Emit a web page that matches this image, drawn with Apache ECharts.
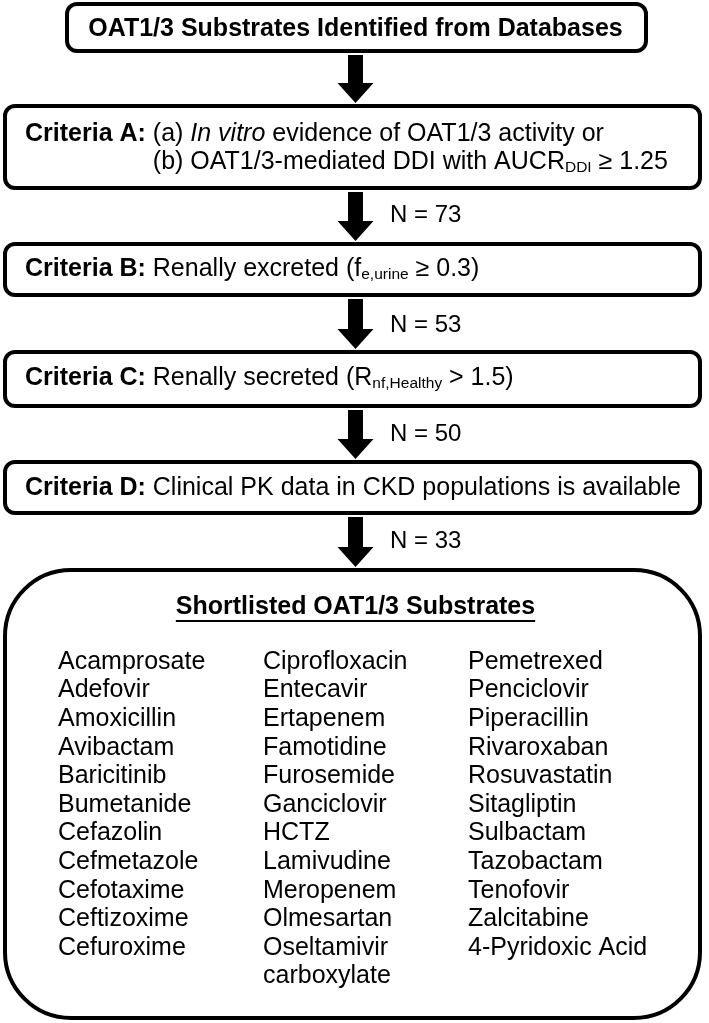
<!DOCTYPE html>
<html>
<head>
<meta charset="utf-8">
<script src="https://cdn.jsdelivr.net/npm/echarts@6/dist/echarts.min.js"></script>
<style>
html,body{margin:0;padding:0;background:#fff;}
#chart{width:709px;height:1023px;}
</style>
</head>
<body>
<div id="chart"></div>
<script>
// ---- data ----
const topTitle = 'OAT1/3 Substrates Identified from Databases';
const criteriaA1 = '{b|Criteria A:} (a) {i|In vitro} evidence of OAT1/3 activity or';
const criteriaA2 = '(b) OAT1/3-mediated DDI with AUCR{s|DDI} ≥ 1.25';
const criteriaB = '{b|Criteria B:} Renally excreted (f{s|e,urine} ≥ 0.3)';
const criteriaC = '{b|Criteria C:} Renally secreted (R{s|nf,Healthy} > 1.5)';
const criteriaD = '{b|Criteria D:} Clinical PK data in CKD populations is available';
const counts = [73, 53, 50, 33];
const listTitle = 'Shortlisted OAT1/3 Substrates';
const column1 = ['Acamprosate','Adefovir','Amoxicillin','Avibactam','Baricitinib','Bumetanide','Cefazolin','Cefmetazole','Cefotaxime','Ceftizoxime','Cefuroxime'];
const column2 = ['Ciprofloxacin','Entecavir','Ertapenem','Famotidine','Furosemide','Ganciclovir','HCTZ','Lamivudine','Meropenem','Olmesartan','Oseltamivir\ncarboxylate'];
const column3 = ['Pemetrexed','Penciclovir','Piperacillin','Rivaroxaban','Rosuvastatin','Sitagliptin','Sulbactam','Tazobactam','Tenofovir','Zalcitabine','4-Pyridoxic Acid'];

// ---- layout ----
const FF = '"Liberation Sans", Arial, Helvetica, sans-serif';
const FS = 25;
const cx = 355.5;
const rich = {
  b: {fontFamily: FF, fontSize: FS, fontWeight: 'bold', fill: '#000'},
  i: {fontFamily: FF, fontSize: FS, fontStyle: 'italic', fill: '#000'},
  s: {fontFamily: FF, fontSize: 15.5, fill: '#000', padding: [12, 0, 0, 0]}
};
function txt(text, x, y, opts) {
  return {
    type: 'text', x: x, y: y, silent: true,
    style: Object.assign({
      text: text, fill: '#000', fontFamily: FF, fontSize: FS,
      align: 'left', verticalAlign: 'middle', rich: rich
    }, opts || {})
  };
}
function box(x1, y1, x2, y2, r) {
  return {type: 'rect', shape: {x: x1, y: y1, width: x2 - x1, height: y2 - y1, r: r},
    style: {fill: '#fff', stroke: '#000', lineWidth: 4}, silent: true};
}
function arrow(y0, y1) {
  const hs = 7.5, hh = 18, yh = y1 - 20;
  return {type: 'polygon', silent: true,
    shape: {points: [[cx - hs, y0], [cx + hs, y0], [cx + hs, yh], [cx + hh, yh], [cx, y1], [cx - hh, yh], [cx - hs, yh]]},
    style: {fill: '#000'}};
}
const ctx = document.createElement('canvas').getContext('2d');
function measure(t, font) { ctx.font = font; return ctx.measureText(t).width; }

const els = [];
els.push(box(67, 4, 646, 51, 10));
els.push(txt(topTitle, cx, 29, {align: 'center', fontWeight: 'bold'}));

const boxes = [[106, 188], [244, 295], [352, 406], [462, 513]];
boxes.forEach(b => els.push(box(5, b[0], 700, b[1], 10)));
const arrows = [[55, 103], [192, 241], [299, 349], [410, 459], [517, 567]];
arrows.forEach(a => els.push(arrow(a[0], a[1])));

const leftX = 25;
els.push(txt(criteriaA1, leftX, 134));
const indent = leftX + measure('Criteria A: ', 'bold ' + FS + 'px ' + FF);
els.push(txt(criteriaA2, indent, 162));
els.push(txt(criteriaB, leftX, 269));
els.push(txt(criteriaC, leftX, 378));
els.push(txt(criteriaD, leftX, 488));

const labelY = [215, 325, 434, 541];
counts.forEach((n, k) => els.push(txt('N = ' + n, 390, labelY[k], {fontSize: 24})));

// final box
els.push(box(5, 570, 700, 1018, 66));
els.push(txt(listTitle, cx, 607, {align: 'center', fontWeight: 'bold'}));
const tw = measure(listTitle, 'bold ' + FS + 'px ' + FF);
els.push({type: 'line', silent: true, shape: {x1: cx - tw / 2, y1: 621, x2: cx + tw / 2, y2: 621}, style: {stroke: '#000', lineWidth: 2}});

const rowH = 28.6, firstRow = 662;
[[column1, 58], [column2, 263], [column3, 468]].forEach(c => {
  els.push({type: 'text', silent: true, x: c[1], y: firstRow - rowH / 2,
    style: {text: c[0].join('\n'), fill: '#000', fontFamily: FF, fontSize: 25, lineHeight: rowH, align: 'left', verticalAlign: 'top'}});
});

const chart = echarts.init(document.getElementById('chart'), null, {renderer: 'canvas'});
chart.setOption({
  backgroundColor: '#fff',
  animation: false,
  graphic: {elements: els}
});
</script>
</body>
</html>
